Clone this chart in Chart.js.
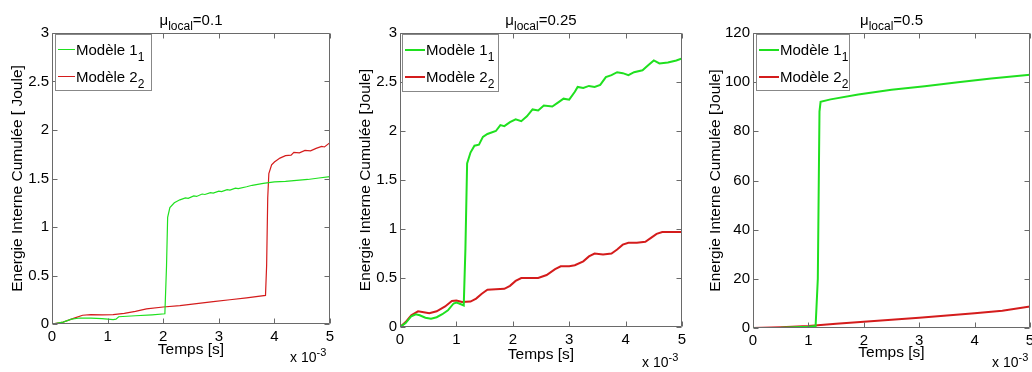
<!DOCTYPE html>
<html><head><meta charset="utf-8">
<script src="https://cdn.jsdelivr.net/npm/chart.js@4/dist/chart.umd.min.js"></script>
<style>
body{margin:0;background:#fff;width:1032px;height:372px;overflow:hidden;position:relative;font-family:'Liberation Sans',Arial,sans-serif;color:#000;}
.pane{position:absolute;top:0;height:372px;}
.title{position:absolute;font-size:15px;white-space:nowrap;transform:translateX(-50%);line-height:15px;}
.title sub{font-size:12px;vertical-align:-5px;line-height:0;}
.legend{position:absolute;border:1px solid #888;background:#fff;box-sizing:border-box;}
.row{position:absolute;white-space:nowrap;font-size:15px;line-height:15px;}
.row sub{font-size:12px;vertical-align:-6px;line-height:0;}
.swatch{position:absolute;height:0;}
.mult{position:absolute;font-size:14px;white-space:nowrap;line-height:14px;}
.mult sup{font-size:11px;vertical-align:6px;line-height:0;}
</style>
</head><body>
<div class="pane" style="left:0;width:344px"><canvas id="c1" width="344" height="372"></canvas></div>
<div class="pane" style="left:344px;width:346px"><canvas id="c2" width="346" height="372"></canvas></div>
<div class="pane" style="left:690px;width:342px"><canvas id="c3" width="342" height="372"></canvas></div>
<script>
// ---- data (time in 10^-3 s, energy in Joule) ----
const seriesNames = ['Modèle 1', 'Modèle 2'];
const seriesSubs = ['1', '2'];
const panelTitles = ['0.1', '0.25', '0.5'];
const xTickLabels = ['0','1','2','3','4','5'];

// panel 1: mu_local = 0.1
const p1_m1_t = [0,0.2,0.35,0.5,0.7,0.9,1.1,1.15,1.2,1.5,1.8,2.03,2.06,2.08,2.12,2.2,2.3,2.4,2.45,2.55,2.6,2.7,2.75,2.85,2.9,3.0,3.05,3.15,3.2,3.3,3.35,3.5,3.6,3.8,4.0,4.2,4.4,4.6,4.8,5.0];
const p1_m1_v = [0,0.02,0.05,0.062,0.06,0.055,0.045,0.05,0.075,0.085,0.095,0.105,0.6,1.1,1.2,1.25,1.28,1.30,1.295,1.32,1.315,1.34,1.335,1.355,1.35,1.37,1.365,1.385,1.38,1.40,1.395,1.415,1.43,1.45,1.465,1.47,1.48,1.49,1.505,1.52];
const p1_m2_t = [0,0.2,0.4,0.55,0.7,0.9,1.1,1.3,1.5,1.7,2.0,2.3,2.6,2.9,3.2,3.5,3.84,3.86,3.88,3.9,3.95,4.0,4.1,4.2,4.3,4.35,4.45,4.55,4.65,4.75,4.85,4.9,5.0];
const p1_m2_v = [0,0.02,0.06,0.09,0.097,0.095,0.097,0.11,0.13,0.155,0.175,0.19,0.21,0.23,0.25,0.27,0.295,0.6,1.3,1.55,1.64,1.67,1.71,1.735,1.74,1.77,1.765,1.79,1.785,1.81,1.83,1.825,1.87];

// panel 2: mu_local = 0.25
const p2_m1_t = [0,0.1,0.2,0.28,0.35,0.45,0.55,0.65,0.75,0.85,0.95,1.0,1.05,1.13,1.16,1.19,1.25,1.32,1.4,1.47,1.55,1.7,1.78,1.85,1.95,2.05,2.15,2.25,2.35,2.45,2.55,2.7,2.8,2.9,3.0,3.1,3.15,3.25,3.35,3.45,3.55,3.65,3.75,3.85,3.95,4.05,4.15,4.3,4.4,4.5,4.6,4.75,4.9,5.0];
const p2_m1_v = [0,0.04,0.11,0.13,0.12,0.095,0.085,0.1,0.13,0.17,0.24,0.25,0.24,0.22,0.8,1.67,1.78,1.85,1.86,1.94,1.97,2.0,2.06,2.05,2.09,2.12,2.1,2.15,2.22,2.21,2.26,2.25,2.29,2.33,2.32,2.40,2.45,2.44,2.46,2.45,2.47,2.55,2.57,2.60,2.59,2.57,2.60,2.62,2.67,2.72,2.69,2.70,2.72,2.74];
const p2_m2_t = [0,0.1,0.2,0.32,0.42,0.52,0.65,0.8,0.92,1.0,1.1,1.25,1.35,1.45,1.55,1.7,1.85,1.95,2.05,2.15,2.3,2.45,2.6,2.75,2.85,3.0,3.1,3.25,3.35,3.45,3.6,3.75,3.85,3.95,4.05,4.2,4.35,4.45,4.55,4.65,4.8,5.0];
const p2_m2_v = [0,0.05,0.12,0.16,0.15,0.14,0.16,0.21,0.265,0.27,0.255,0.26,0.29,0.34,0.38,0.385,0.39,0.42,0.47,0.5,0.5,0.5,0.53,0.59,0.62,0.62,0.63,0.67,0.72,0.75,0.74,0.75,0.79,0.84,0.86,0.86,0.87,0.91,0.95,0.97,0.97,0.97];

// panel 3: mu_local = 0.5
const p3_m1_t = [0,0.5,1.0,1.13,1.17,1.2,1.22,1.4,1.9,2.5,3.1,3.7,4.3,5.0];
const p3_m1_v = [0,0.1,0.5,0.8,20,88,92,93,95,96.9,98.3,100,101.5,103];
const p3_m2_t = [0,0.5,1.0,1.5,2.0,2.5,3.0,3.5,4.0,4.5,5.0];
const p3_m2_v = [0,0.3,0.8,1.7,2.5,3.4,4.2,5.1,6.0,7.0,8.8];

const colors = ['#1fe01f', '#d41c1c'];

const FONT = "'Liberation Sans', Arial, sans-serif";

const frame = {
  id: 'frame',
  afterDraw(chart) {
    const {ctx, chartArea: a, scales: {x, y}} = chart;
    ctx.save();
    ctx.strokeStyle = '#6a6a6a';
    ctx.lineWidth = 1;
    const L = Math.round(a.left) + 0.5, R = Math.round(a.right) - 0.5;
    const T = Math.round(a.top) + 0.5, B = Math.round(a.bottom) - 0.5;
    ctx.beginPath();
    ctx.rect(L, T, R - L, B - T);
    const tl = 5;
    x.ticks.forEach(t => {
      const px = Math.round(x.getPixelForValue(t.value)) + 0.5;
      ctx.moveTo(px, B); ctx.lineTo(px, B - tl);
      ctx.moveTo(px, T); ctx.lineTo(px, T + tl);
    });
    y.ticks.forEach(t => {
      const py = Math.round(y.getPixelForValue(t.value)) + 0.5;
      ctx.moveTo(L, py); ctx.lineTo(L + tl, py);
      ctx.moveTo(R, py); ctx.lineTo(R - tl, py);
    });
    ctx.stroke();
    ctx.restore();
  }
};

function pts(t, v) { return t.map((tt, i) => ({x: tt, y: v[i]})); }

function makePanel(cfg) {
  const ds = cfg.series.map((s, i) => ({
    label: seriesNames[i] + ' ' + seriesSubs[i],
    data: pts(s[0], s[1]),
    borderColor: colors[i],
    backgroundColor: colors[i],
    borderWidth: cfg.lw,
    pointRadius: 0,
    tension: 0,
    fill: false
  }));
  const chart = new Chart(document.getElementById(cfg.id), {
    type: 'line',
    data: {datasets: ds},
    options: {
      responsive: false,
      animation: false,
      events: [],
      layout: {padding: {top: cfg.padTop, right: cfg.padRight, left: 0, bottom: 0}},
      plugins: {legend: {display: false}, title: {display: false}, tooltip: {enabled: false}},
      scales: {
        x: {
          type: 'linear', min: 0, max: 5,
          grid: {display: false, drawTicks: false}, border: {display: false},
          ticks: {stepSize: 1, padding: 4, color: '#000', font: {family: FONT, size: 15}, maxRotation: 0, autoSkip: false,
                  callback: (v) => xTickLabels[Math.round(v)]},
          title: {display: true, text: 'Temps [s]', color: '#000', font: {family: FONT, size: 15.5}, padding: {top: 0, bottom: cfg.xTitlePad}},
          afterFit(s) { s.height = cfg.xH; s.paddingLeft = 0; s.paddingRight = 0; }
        },
        y: {
          type: 'linear', min: 0, max: cfg.ymax,
          grid: {display: false, drawTicks: false}, border: {display: false},
          ticks: {stepSize: cfg.ystep, padding: 3, color: '#000', font: {family: FONT, size: 15}, autoSkip: false,
                  callback: (v) => String(+v.toFixed(2))},
          title: {display: true, text: cfg.ytitle, color: '#000', font: {family: FONT, size: 15.5}, padding: {top: cfg.yTitlePad, bottom: 0}},
          afterFit(s) { s.width = cfg.yW; s.paddingTop = 0; s.paddingBottom = 0; }
        }
      }
    },
    plugins: [frame]
  });

  const pane = document.getElementById(cfg.id).parentNode;
  const a = chart.chartArea;
  const tdiv = document.createElement('div');
  tdiv.className = 'title';
  tdiv.style.left = ((a.left + a.right) / 2) + 'px';
  tdiv.style.top = cfg.titleTop + 'px';
  tdiv.innerHTML = 'μ<sub>local</sub>=' + cfg.title;
  pane.appendChild(tdiv);
  const lg = document.createElement('div');
  lg.className = 'legend';
  Object.assign(lg.style, {left: cfg.lg[0] + 'px', top: cfg.lg[1] + 'px', width: cfg.lg[2] + 'px', height: cfg.lg[3] + 'px'});
  chart.data.datasets.forEach((d, i) => {
    const sw = document.createElement('div');
    sw.className = 'swatch';
    Object.assign(sw.style, {left: '2px', width: cfg.swW + 'px', top: (cfg.rowY[i] - 1) + 'px', borderTop: cfg.lw + 'px solid ' + d.borderColor});
    lg.appendChild(sw);
    const r = document.createElement('div');
    r.className = 'row';
    r.style.left = (cfg.swW + 3) + 'px';
    r.style.top = (cfg.rowY[i] - 8) + 'px';
    r.innerHTML = seriesNames[i] + '<sub>' + seriesSubs[i] + '</sub>';
    lg.appendChild(r);
  });
  pane.appendChild(lg);
  const m = document.createElement('div');
  m.className = 'mult';
  m.style.left = cfg.mult[0] + 'px';
  m.style.top = cfg.mult[1] + 'px';
  m.innerHTML = 'x 10<sup>-3</sup>';
  pane.appendChild(m);
  return chart;
}

makePanel({id: 'c1', title: panelTitles[0], lw: 1.2, ymax: 3, ystep: 0.5,
  ytitle: 'Energie Interne Cumulée [ Joule]',
  series: [[p1_m1_t, p1_m1_v], [p1_m2_t, p1_m2_v]],
  padTop: 33, padRight: 14, xH: 48, yW: 52, yTitlePad: 8, xTitlePad: 13, titleTop: 12,
  lg: [55, 34, 97, 57], swW: 17, rowY: [15, 42], mult: [290, 350]});
makePanel({id: 'c2', title: panelTitles[1], lw: 2, ymax: 3, ystep: 0.5,
  ytitle: 'Energie Interne Cumulée [Joule]',
  series: [[p2_m1_t, p2_m1_v], [p2_m2_t, p2_m2_v]],
  padTop: 33, padRight: 8, xH: 45, yW: 56, yTitlePad: 12, xTitlePad: 8, titleTop: 12,
  lg: [58, 34, 97, 58], swW: 20, rowY: [15, 42], mult: [298, 355]});
makePanel({id: 'c3', title: panelTitles[2], lw: 2, ymax: 120, ystep: 20,
  ytitle: 'Energie Interne Cumulée [Joule]',
  series: [[p3_m1_t, p3_m1_v], [p3_m2_t, p3_m2_v]],
  padTop: 33, padRight: 2, xH: 44, yW: 63, yTitlePad: 16, xTitlePad: 10, titleTop: 12,
  lg: [66, 34, 94, 57], swW: 20, rowY: [15, 42], mult: [302, 355]});
</script>
</body></html>
